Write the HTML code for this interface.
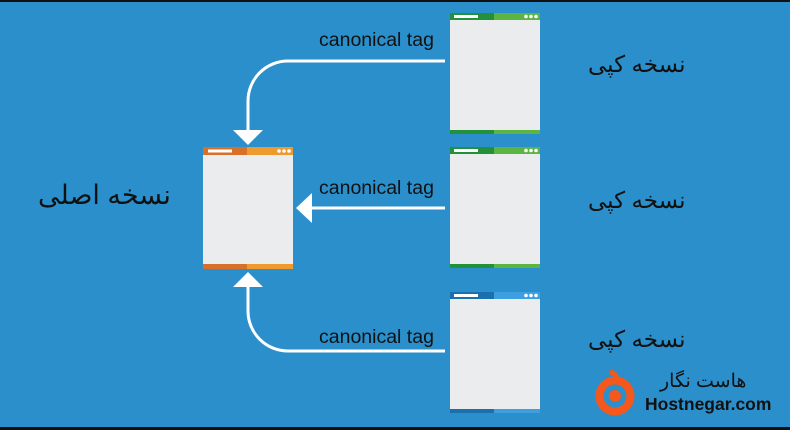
<!DOCTYPE html>
<html><head><meta charset="utf-8"><style>
body{margin:0;width:790px;height:430px;overflow:hidden;background:#111}
#c{position:absolute;left:0;top:2px;width:790px;height:425px;background:#2a8fcb}
.t{position:absolute;font-family:"Liberation Sans",sans-serif;font-size:19.5px;color:#111;white-space:nowrap}
.fa{position:absolute;font-family:"Liberation Sans","Noto Sans CJK SC",sans-serif;color:#111;direction:rtl;white-space:nowrap}
</style></head><body>
<div id="c"></div>
<svg width="790" height="430" style="position:absolute;left:0;top:0">
<g transform="translate(450,13)"><rect width="90" height="121" fill="#ebeced"/><rect width="44" height="7" fill="#23913a"/><rect x="44" width="46" height="7" fill="#5cb443"/><rect x="4" y="2" width="24" height="3" fill="#fff"/><circle cx="76" cy="3.5" r="1.8" fill="#fff"/><circle cx="81" cy="3.5" r="1.8" fill="#fff"/><circle cx="86" cy="3.5" r="1.8" fill="#fff"/><rect y="117" width="44" height="4" fill="#23913a"/><rect x="44" y="117" width="46" height="4" fill="#5cb443"/></g>
<g transform="translate(450,147)"><rect width="90" height="121" fill="#ebeced"/><rect width="44" height="7" fill="#23913a"/><rect x="44" width="46" height="7" fill="#5cb443"/><rect x="4" y="2" width="24" height="3" fill="#fff"/><circle cx="76" cy="3.5" r="1.8" fill="#fff"/><circle cx="81" cy="3.5" r="1.8" fill="#fff"/><circle cx="86" cy="3.5" r="1.8" fill="#fff"/><rect y="117" width="44" height="4" fill="#23913a"/><rect x="44" y="117" width="46" height="4" fill="#5cb443"/></g>
<g transform="translate(450,292)"><rect width="90" height="121" fill="#ebeced"/><rect width="44" height="7" fill="#1a6fae"/><rect x="44" width="46" height="7" fill="#3d9fe0"/><rect x="4" y="2" width="24" height="3" fill="#fff"/><circle cx="76" cy="3.5" r="1.8" fill="#fff"/><circle cx="81" cy="3.5" r="1.8" fill="#fff"/><circle cx="86" cy="3.5" r="1.8" fill="#fff"/><rect y="117" width="44" height="4" fill="#1a6fae"/><rect x="44" y="117" width="46" height="4" fill="#3d9fe0"/></g>
<g transform="translate(203,147)"><rect width="90" height="122" fill="#ebeced"/><rect width="44" height="8" fill="#d9702a"/><rect x="44" width="46" height="8" fill="#ee9a2f"/><rect x="5" y="2.5" width="24" height="3" fill="#fff"/><circle cx="76" cy="4" r="1.8" fill="#fff"/><circle cx="81" cy="4" r="1.8" fill="#fff"/><circle cx="86" cy="4" r="1.8" fill="#fff"/><rect y="117" width="44" height="5" fill="#d9702a"/><rect x="44" y="117" width="46" height="5" fill="#ee9a2f"/></g>
<g stroke="#fff" stroke-width="3" fill="none">
<path d="M445 61 H288 A40 40 0 0 0 248 101 V132"/>
<path d="M445 208 H310"/>
<path d="M445 351 H288 A40 40 0 0 1 248 311 V285"/>
</g>
<g fill="#fff">
<polygon points="233,130 263,130 248,145"/>
<polygon points="312,193 312,223 296,208"/>
<polygon points="233,287 263,287 248,272"/>
</g>
<circle cx="615" cy="396" r="15.5" fill="none" stroke="#f4581c" stroke-width="8"/>
<circle cx="615" cy="396" r="6" fill="#f4581c"/>
<path d="M610 372 q9 2 6 12" stroke="#f4581c" stroke-width="5" fill="none"/>
</svg>
<div class="t" style="left:319px;top:29px">canonical tag</div>
<div class="t" style="left:319px;top:177px">canonical tag</div>
<div class="t" style="left:319px;top:326px">canonical tag</div>
<div class="fa" style="left:588px;top:51px;font-size:23px">نسخه کپی</div>
<div class="fa" style="left:588px;top:187px;font-size:23px">نسخه کپی</div>
<div class="fa" style="left:588px;top:326px;font-size:23px">نسخه کپی</div>
<div class="fa" style="left:38px;top:180px;font-size:27px">نسخه اصلی</div>
<div class="fa" style="left:660px;top:370px;font-size:19px">هاست نگار</div>
<div class="t" style="left:645px;top:394px;font-size:17.5px;font-weight:bold">Hostnegar.com</div>
</body></html>
